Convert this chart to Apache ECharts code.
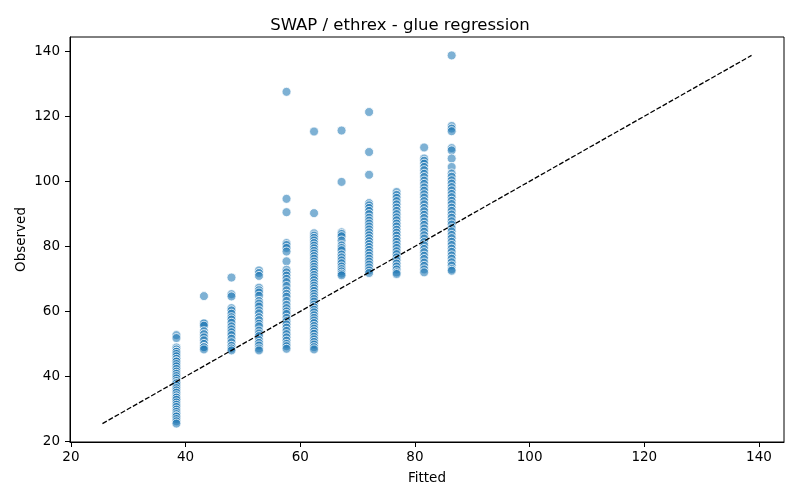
<!DOCTYPE html>
<html>
<head>
<meta charset="UTF-8">
<title>SWAP / ethrex - glue regression</title>
<script src="https://cdn.jsdelivr.net/npm/echarts@6/dist/echarts.min.js"></script>
<style>
	html, body { margin: 0; padding: 0; background: #fff; }
	#chart { width: 800px; height: 500px; }
</style>
</head>
<body>
<div id="chart"></div>
<script>
// fitted values (one column of observations per level)
var fittedLevels = [38.4, 43.2, 48.0, 52.8, 57.6, 62.4, 67.2, 72.0, 76.8, 81.6, 86.4];

var obs384 = [52.7, 51.8, 48.9, 48.3, 47.6, 47.6, 46.9, 46.2, 45.4, 44.6, 44.6, 43.8, 43.1, 42.3, 41.5, 40.8, 40.1, 39.4, 38.6, 37.9, 37.9, 37.2, 36.4, 35.7, 35.0, 34.2, 33.5, 33.5, 32.8, 32.0, 31.3, 30.6, 29.8, 29.1, 28.4, 27.7, 27.7, 26.9, 26.2, 25.5];
var obs432 = [64.7, 56.3, 56.3, 55.6, 53.9, 53.0, 52.0, 51.1, 50.0, 49.0, 49.0, 48.3];
var obs480 = [70.4, 65.3, 64.6, 61.0, 60.3, 59.3, 58.2, 57.5, 56.5, 55.4, 54.5, 53.6, 52.7, 51.6, 50.5, 49.4, 48.6, 48.0];
var obs528 = [72.6, 71.8, 70.9, 67.3, 66.5, 65.8, 64.8, 63.2, 62.4, 61.5, 60.3, 59.4, 58.2, 57.3, 56.2, 55.4, 54.1, 53.2, 52.4, 51.2, 50.3, 49.5, 48.6, 48.0];
var obs576 = [127.5, 94.6, 90.5, 81.0, 80.4, 79.5, 78.4, 75.4, 72.8, 72.0, 71.0, 70.0, 69.0, 67.8, 66.5, 65.4, 64.5, 63.2, 62.0, 61.0, 60.0, 59.2, 58.0, 57.0, 56.0, 55.0, 54.0, 53.0, 52.0, 51.0, 50.0, 49.3, 48.5];
var obs624 = [115.3, 90.2, 84.0, 83.3, 82.6, 81.8, 81.0, 80.2, 79.4, 78.6, 77.8, 77.0, 76.2, 75.3, 74.5, 73.7, 72.9, 72.1, 71.2, 70.4, 69.6, 68.7, 67.9, 67.1, 66.3, 65.4, 64.6, 63.8, 63.0, 62.1, 61.3, 60.5, 59.7, 58.8, 58.0, 57.2, 56.4, 55.5, 54.7, 53.9, 53.1, 52.2, 51.4, 50.6, 49.8, 49.0, 48.3];
var obs672 = [115.6, 99.8, 84.3, 83.8, 83.1, 81.8, 80.3, 79.5, 78.8, 77.5, 76.6, 75.7, 74.8, 73.8, 73.0, 72.3, 71.6, 71.1];
var obs720 = [121.3, 109.0, 102.0, 93.3, 92.6, 91.8, 90.9, 89.9, 88.8, 87.9, 87.0, 86.1, 85.2, 84.3, 83.4, 82.5, 81.6, 80.7, 79.8, 78.9, 78.0, 77.1, 76.2, 75.3, 74.4, 73.5, 72.6, 71.8];
var obs768 = [96.7, 95.8, 94.9, 93.9, 92.9, 91.9, 90.9, 89.9, 88.9, 88.0, 87.0, 86.1, 85.1, 84.2, 83.3, 82.3, 81.4, 80.4, 79.5, 78.5, 77.6, 76.6, 75.7, 74.7, 73.8, 72.9, 72.0, 71.5];
var obs816 = [110.4, 107.0, 106.3, 105.4, 104.4, 103.4, 102.3, 101.3, 100.2, 99.2, 98.1, 97.1, 96.0, 95.0, 93.9, 92.9, 91.8, 90.8, 89.7, 88.7, 87.6, 86.6, 85.5, 84.5, 83.4, 82.4, 81.3, 80.3, 79.2, 78.2, 77.1, 76.1, 75.0, 74.0, 72.9, 72.0];
var obs864 = [138.7, 117.0, 116.2, 115.4, 110.2, 109.5, 107.0, 104.4, 102.4, 101.4, 100.3, 99.3, 98.2, 97.2, 96.1, 95.1, 94.0, 93.0, 91.9, 90.9, 89.8, 88.8, 87.7, 86.7, 85.6, 84.6, 83.5, 82.5, 81.4, 80.4, 79.3, 78.3, 77.2, 76.2, 75.1, 74.1, 73.0, 72.5];

var observedCols = [obs384, obs432, obs480, obs528, obs576, obs624, obs672, obs720, obs768, obs816, obs864];

// y = x reference line, from smallest to largest value
var identityEnds = [25.5, 138.7];

var xTicks = [20, 40, 60, 80, 100, 120, 140];
var yTicks = [20, 40, 60, 80, 100, 120, 140];

var points = [];
for (var i = 0; i < fittedLevels.length; i++) {
	for (var j = 0; j < observedCols[i].length; j++) {
		points.push([fittedLevels[i], observedCols[i][j]]);
	}
}

var font = 'DejaVu Sans';
var axisMin = 19.84, axisMax = 144.36;

var myChart = echarts.init(document.getElementById('chart'), null, { renderer: 'canvas' });
var option = {
	backgroundColor: '#fff',
	animation: false,
	title: {
		text: 'SWAP / ethrex - glue regression',
		left: 'center',
		top: 12,
		textStyle: { fontFamily: font, fontSize: 16.5, fontWeight: 'normal', color: '#000' }
	},
	grid: {
		left: 70, right: 16, top: 37, bottom: 58,
		show: true, borderColor: '#000', borderWidth: 1
	},
	xAxis: {
		type: 'value',
		min: axisMin,
		max: axisMax,
		name: 'Fitted',
		nameLocation: 'middle',
		nameGap: 29,
		nameMoveOverlap: false,
		nameTextStyle: { fontFamily: font, fontSize: 13.5, color: '#000' },
		axisLine: { show: true, lineStyle: { color: '#000', width: 1 } },
		axisTick: { show: true, length: 5, lineStyle: { color: '#000' }, customValues: xTicks },
		axisLabel: { fontFamily: font, fontSize: 13.5, color: '#000', margin: 8, customValues: xTicks },
		splitLine: { show: false }
	},
	yAxis: {
		type: 'value',
		min: axisMin,
		max: axisMax,
		name: 'Observed',
		nameLocation: 'middle',
		nameGap: 42,
		nameMoveOverlap: false,
		nameTextStyle: { fontFamily: font, fontSize: 13.5, color: '#000' },
		axisLine: { show: true, lineStyle: { color: '#000', width: 1 } },
		axisTick: { show: true, length: 5, lineStyle: { color: '#000' }, customValues: yTicks },
		axisLabel: { fontFamily: font, fontSize: 13.5, color: '#000', margin: 10, customValues: yTicks },
		splitLine: { show: false }
	},
	series: [{
		type: 'scatter',
		data: points,
		symbolSize: 9,
		itemStyle: { color: 'rgba(31,119,180,0.72)', borderColor: '#fff', borderWidth: 1 },
		z: 2
	}, {
		type: 'line',
		data: [[identityEnds[0], identityEnds[0]], [identityEnds[1], identityEnds[1]]],
		symbol: 'none',
		lineStyle: { color: '#000', width: 1.3, type: [5, 2] },
		z: 3
	}]
};
myChart.setOption(option, true);
</script>
</body>
</html>
